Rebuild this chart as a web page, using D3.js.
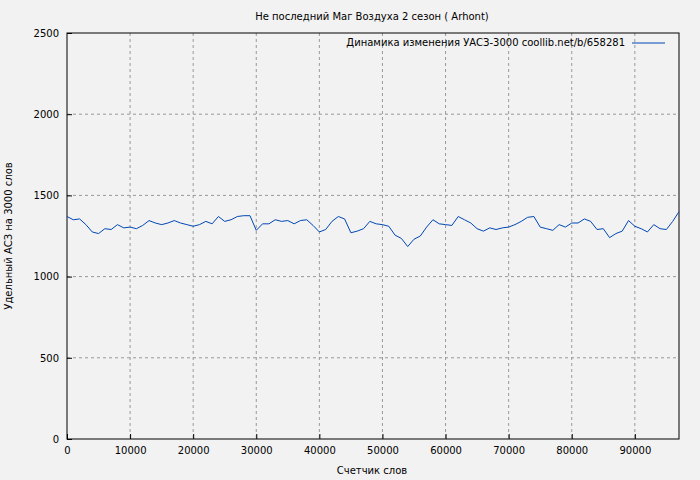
<!DOCTYPE html><html><head><meta charset="utf-8"><script src="https://cdn.jsdelivr.net/npm/d3@7"></script>
<style>body{margin:0;background:#f2f2f2}text{font-family:"DejaVu Sans",sans-serif;font-size:10px}</style></head><body><svg id="c" width="700" height="480"></svg><script>
const title="Не последний Маг Воздуха 2 сезон ( Arhont)";
const legendLabel="Динамика изменения УАСЗ-3000 coollib.net/b/658281";
const xLabel="Счетчик слов", yLabel="Удельный АСЗ на 3000 слов";
const xTicks=[0,10000,20000,30000,40000,50000,60000,70000,80000,90000];
const yTicks=[0,500,1000,1500,2000,2500];
const values=[1370,1350,1355,1320,1275,1265,1295,1290,1320,1300,1305,1295,1315,1345,1330,1320,1330,1345,1330,1320,1310,1320,1340,1325,1370,1340,1350,1370,1375,1375,1285,1325,1325,1350,1340,1345,1325,1345,1350,1315,1275,1290,1340,1370,1355,1270,1280,1295,1340,1325,1320,1310,1255,1235,1185,1230,1250,1305,1350,1325,1320,1315,1370,1350,1330,1295,1280,1300,1290,1300,1305,1320,1340,1365,1370,1305,1295,1285,1320,1305,1330,1330,1355,1340,1290,1295,1240,1265,1280,1345,1310,1295,1275,1320,1295,1290,1340,1400];
const words=values.map((v,i)=>i*1000);
const svg=d3.select("#c");
const x=d3.scaleLinear().domain([0,97000]).range([67,679]);
const y=d3.scaleLinear().domain([0,2500]).range([439,33]);
svg.append("g").selectAll("line").data(xTicks.slice(1)).join("line").attr("x1",d=>x(d)).attr("x2",d=>x(d)).attr("y1",33).attr("y2",439).attr("stroke","#999").attr("stroke-dasharray","3,3");
svg.append("g").selectAll("line").data(yTicks.slice(1,-1)).join("line").attr("y1",d=>y(d)).attr("y2",d=>y(d)).attr("x1",67).attr("x2",679).attr("stroke","#999").attr("stroke-dasharray","3,3");
svg.append("rect").attr("x",67).attr("y",33).attr("width",612).attr("height",406).attr("fill","none").attr("stroke","#000");
svg.append("g").attr("transform","translate(0,439)").call(d3.axisBottom(x).tickValues(xTicks).tickFormat(d3.format("d")).tickSize(-5).tickPadding(8)).call(g=>g.select(".domain").remove());
svg.append("g").attr("transform","translate(67,0)").call(d3.axisLeft(y).tickValues(yTicks).tickFormat(d3.format("d")).tickSize(-5).tickPadding(8)).call(g=>g.select(".domain").remove());
svg.selectAll(".tick text").attr("font-size",10).attr("font-family","DejaVu Sans");
svg.append("path").datum(values).attr("fill","none").attr("stroke","#0047b3").attr("stroke-width",1).attr("d",d3.line().x((d,i)=>x(words[i])).y(d=>y(d)));
svg.append("text").attr("x",372).attr("y",20).attr("text-anchor","middle").text(title);
svg.append("text").attr("x",372).attr("y",474).attr("text-anchor","middle").text(xLabel);
svg.append("text").attr("transform","translate(12,236) rotate(-90)").attr("text-anchor","middle").text(yLabel);
svg.append("text").attr("x",625).attr("y",46).attr("text-anchor","end").text(legendLabel);
svg.append("line").attr("x1",632).attr("x2",665).attr("y1",43).attr("y2",43).attr("stroke","#0047b3");
</script></body></html>
